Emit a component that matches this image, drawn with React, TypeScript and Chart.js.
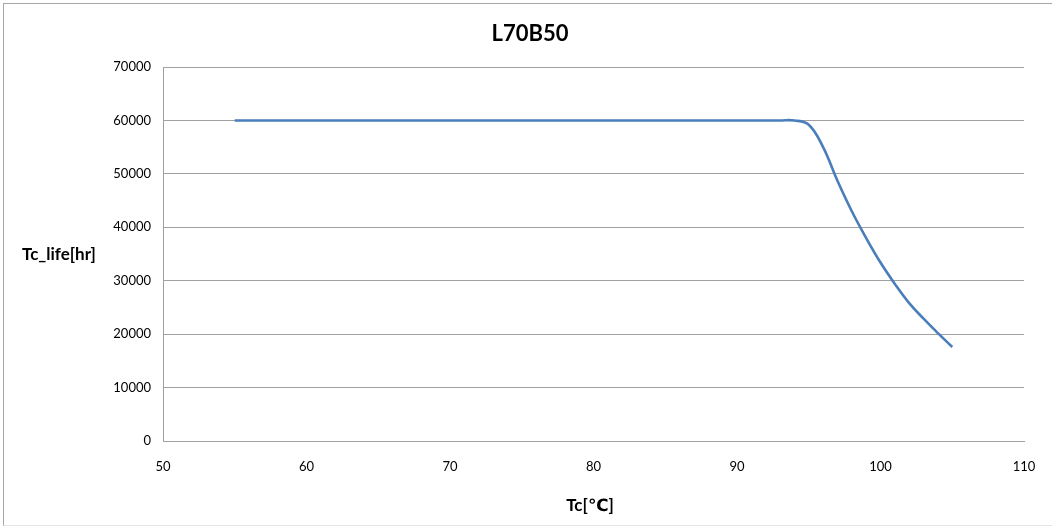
import React, { useEffect, useRef } from "react";
import { Chart, registerables } from "chart.js";

Chart.register(...registerables);

const chartTitle = "L70B50";
const xAxisTitle = "Tc[℃]";
const yAxisTitle = "Tc_life[hr]";
const temperatures = [55, 60, 65, 70, 75, 80, 85, 90, 93, 94, 95, 96, 97, 98, 99, 100, 101, 102, 103, 104, 105];
const lifeHours = [60000, 60000, 60000, 60000, 60000, 60000, 60000, 60000, 60000, 60000, 59200, 55000, 48700, 43000, 38000, 33400, 29400, 25800, 22900, 20200, 17600];
const xTicks = [50, 60, 70, 80, 90, 100, 110];
const yTicks = [0, 10000, 20000, 30000, 40000, 50000, 60000, 70000];

const FONT = "Lato, 'Open Sans', 'DejaVu Sans', sans-serif";

export default function App() {
  const ref = useRef<HTMLCanvasElement | null>(null);

  useEffect(() => {
    if (!ref.current) return;
    const textPlugin = {
      id: "textPlugin",
      afterDraw(chart: any) {
        const ctx = chart.ctx;
        ctx.save();
        ctx.fillStyle = "#000";
        ctx.textAlign = "center";
        ctx.textBaseline = "middle";
        ctx.font = `bold 22px ${FONT}`;
        ctx.fillText(chartTitle, 530, 34);
        ctx.font = `bold 17px ${FONT}`;
        ctx.textAlign = "left";
        ctx.fillText(yAxisTitle, 22, 255);
        ctx.textAlign = "center";
        ctx.fillText(xAxisTitle, 590, 506);
        ctx.restore();
      },
    };
    const chart = new Chart(ref.current, {
      type: "line",
      data: {
        datasets: [
          {
            data: temperatures.map((t, i) => ({ x: t, y: lifeHours[i] })),
            borderColor: "#4a7ebb",
            borderWidth: 2.6,
            pointRadius: 0,
            tension: 0.4,
            fill: false,
          },
        ],
      },
      options: {
        animation: false,
        responsive: false,
        devicePixelRatio: 1,
        layout: { padding: { left: 0, right: 28, top: 67, bottom: 0 } },
        plugins: { legend: { display: false }, title: { display: false }, tooltip: { enabled: false } },
        scales: {
          x: {
            type: "linear",
            min: 50,
            max: 110,
            afterBuildTicks: (scale: any) => {
              scale.ticks = xTicks.map((v) => ({ value: v }));
            },
            afterFit: (scale: any) => {
              scale.height = 527 - 441;
              scale.paddingLeft = 0;
              scale.paddingRight = 0;
            },
            grid: { display: false, drawTicks: false },
            border: { display: true, color: "#a0a0a0", width: 1 },
            ticks: { padding: 18, color: "#000", font: { family: FONT, size: 13 }, maxRotation: 0 },
          },
          y: {
            min: 0,
            max: 70000,
            afterBuildTicks: (scale: any) => {
              scale.ticks = yTicks.map((v) => ({ value: v }));
            },
            afterFit: (scale: any) => {
              scale.width = 163;
              scale.paddingTop = 0;
              scale.paddingBottom = 0;
            },
            grid: { color: "#a0a0a0", lineWidth: 1, drawTicks: false },
            border: { display: true, color: "#a0a0a0", width: 1 },
            ticks: { padding: 12, color: "#000", font: { family: FONT, size: 13 }, callback: (v: any) => String(v) },
          },
        },
      },
      plugins: [textPlugin],
    });
    return () => chart.destroy();
  }, []);

  return (
    <div style={{ position: "fixed", left: 0, top: 0, width: 1052, height: 527, background: "#fff" }}>
      <div
        style={{
          position: "absolute",
          left: 3,
          top: 3,
          width: 1049,
          height: 523,
          boxSizing: "border-box",
          borderTop: "1px solid #a6a6a6",
          borderLeft: "1px solid #a6a6a6",
          borderBottom: "1px solid #e4e4e4",
        }}
      />
      <canvas ref={ref} width={1052} height={527} style={{ position: "absolute", left: 0, top: 0 }} />
    </div>
  );
}
